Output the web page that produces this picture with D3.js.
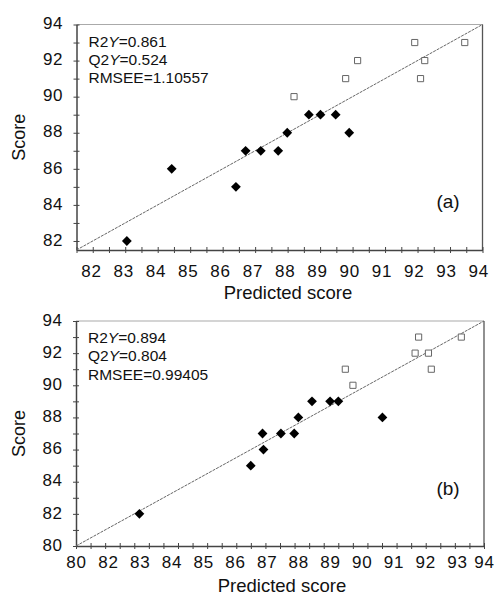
<!DOCTYPE html>
<html>
<head>
<meta charset="utf-8">
<script src="https://cdn.jsdelivr.net/npm/d3@7"></script>
<style>
  body { margin: 0; background: #fff; }
  svg { display: block; font-family: "Liberation Sans", Arial, sans-serif; }
</style>
</head>
<body>
<svg id="chart"></svg>
<script>
const width = 494;
const height = 596;

// Panel (a) - predicted vs measured score
const trainPredA = [83.11, 84.5, 86.49, 86.79, 87.26, 87.8, 88.08, 88.75, 89.11, 89.58, 90.0];
const trainScoreA = [82, 86, 85, 87, 87, 87, 88, 89, 89, 89, 88];
const testPredA = [88.29, 89.89, 90.26, 92.03, 92.21, 92.34, 93.58];
const testScoreA = [90, 91, 92, 93, 91, 92, 93];
const xLabelsA = [82, 83, 84, 85, 86, 87, 88, 89, 90, 91, 92, 93, 94];
const yLabelsA = [82, 84, 86, 88, 90, 92, 94];
const statsA = ["0.861", "0.524", "1.10557"];

// Panel (b)
const trainPredB = [82.99, 86.5, 86.9, 86.87, 87.45, 87.87, 88.0, 88.43, 89.0, 89.26, 90.65];
const trainScoreB = [82, 85, 86, 87, 87, 87, 88, 89, 89, 89, 88];
const testPredB = [89.48, 89.72, 91.68, 91.79, 92.1, 92.19, 93.16];
const testScoreB = [91, 90, 92, 93, 92, 91, 93];
const xLabelsB = [80, 82, 83, 84, 85, 86, 87, 88, 89, 90, 91, 92, 93, 94];
const yLabelsB = [80, 82, 84, 86, 88, 90, 92, 94];
const statsB = ["0.894", "0.804", "0.99405"];

const svg = d3.select("#chart")
    .attr("width", width)
    .attr("height", height);

function drawPanel(p) {
    const g = svg.append("g");
    const x = p.x, y = p.y;
    const xr = x.range(), yr = y.range();
    const left = xr[0], right = xr[xr.length - 1];
    const bottom = yr[0], top = yr[yr.length - 1];

    // frame
    g.append("line").attr("x1", left).attr("x2", right).attr("y1", top).attr("y2", top)
        .attr("stroke", "#aaa").attr("stroke-width", 1.2);
    g.append("line").attr("x1", right).attr("x2", right).attr("y1", top).attr("y2", bottom)
        .attr("stroke", "#555").attr("stroke-width", 1.3);

    // minor tick marks, evenly spaced along the frame
    const xTick = d3.scaleLinear().domain([0, p.nTicksX]).range([left, right]);
    const xMinor = g.append("g").attr("transform", `translate(0,${bottom})`)
        .call(d3.axisBottom(xTick).tickValues(d3.range(p.nTicksX + 1)).tickFormat("").tickSizeOuter(0));
    xMinor.select(".domain").attr("stroke", "#444").attr("stroke-width", 1.5);
    xMinor.selectAll(".tick line").attr("y1", -3).attr("y2", 3).attr("stroke", "#444");

    const yMinor = g.append("g").attr("transform", `translate(${left},0)`)
        .call(d3.axisLeft(y).tickValues(d3.range(Math.ceil(y.domain()[0]), 95)).tickFormat("").tickSizeOuter(0));
    yMinor.select(".domain").attr("stroke", "#444").attr("stroke-width", 1.5);
    yMinor.selectAll(".tick line").attr("x1", -3).attr("x2", 3).attr("stroke", "#444");

    // tick labels
    const xLab = g.append("g").attr("transform", `translate(0,${bottom})`)
        .call(d3.axisBottom(x).tickValues(p.xLabels).tickSize(0).tickPadding(p.xPad));
    xLab.select(".domain").remove();
    xLab.selectAll("text").attr("font-size", 17).attr("fill", "#111")
        .attr("font-family", "Liberation Sans, Arial, sans-serif").attr("letter-spacing", 0.8);

    const yLab = g.append("g").attr("transform", `translate(${left},0)`)
        .call(d3.axisLeft(y).tickValues(p.yLabels).tickSize(0).tickPadding(13.5));
    yLab.select(".domain").remove();
    yLab.selectAll("text").attr("font-size", 17).attr("fill", "#111").attr("dy", "0.25em")
        .attr("font-family", "Liberation Sans, Arial, sans-serif").attr("letter-spacing", 0.6);

    // diagonal reference line, corner to corner
    const xd = x.domain(), yd = y.domain();
    g.append("line")
        .attr("x1", x(xd[0])).attr("y1", y(yd[0]))
        .attr("x2", x(xd[xd.length - 1])).attr("y2", y(yd[yd.length - 1]))
        .attr("stroke", "#666").attr("stroke-width", 1).attr("stroke-dasharray", "3,1");

    // training set: black diamonds
    g.selectAll(".train").data(p.trainPred)
        .enter().append("path")
        .attr("class", "train")
        .attr("d", d3.symbol().type(d3.symbolSquare).size(48))
        .attr("transform", (d, i) => `translate(${x(d)},${y(p.trainScore[i])}) rotate(45)`)
        .attr("fill", "#000");

    // test set: open squares
    g.selectAll(".test").data(p.testPred)
        .enter().append("path")
        .attr("class", "test")
        .attr("d", d3.symbol().type(d3.symbolSquare).size(38))
        .attr("transform", (d, i) => `translate(${x(d)},${y(p.testScore[i])})`)
        .attr("fill", "#fff").attr("stroke", "#666").attr("stroke-width", 1);

    // statistics
    const names = [["R2", "Y"], ["Q2", "Y"], ["RMSEE", ""]];
    names.forEach((n, i) => {
        const t = g.append("text")
            .attr("x", left + 12)
            .attr("y", top + 22 + i * 18.3)
            .attr("font-size", 15.5)
            .attr("fill", "#111");
        t.append("tspan").text(n[0]);
        if (n[1]) t.append("tspan").attr("font-style", "italic").text(n[1]);
        t.append("tspan").text("=" + p.stats[i]);
    });

    g.append("text")
        .attr("x", 448).attr("y", p.tagY)
        .attr("text-anchor", "middle").attr("font-size", 19).attr("fill", "#111")
        .text(p.tag);

    g.append("text")
        .attr("x", p.titleX).attr("y", p.titleY)
        .attr("text-anchor", "middle").attr("font-size", 18.5).attr("fill", "#111")
        .text("Predicted score");

    g.append("text")
        .attr("transform", `translate(25,${(top + bottom) / 2}) rotate(-90)`)
        .attr("text-anchor", "middle").attr("font-size", 18).attr("fill", "#111")
        .text("Score");
}

drawPanel({
    x: d3.scaleLinear().domain([81.55, 94.13]).range([76.5, 482.5]),
    y: d3.scaleLinear().domain([81.5, 94]).range([250, 24.5]),
    nTicksX: 25,
    xLabels: xLabelsA, yLabels: yLabelsA,
    xPad: 14.8,
    trainPred: trainPredA, trainScore: trainScoreA,
    testPred: testPredA, testScore: testScoreA,
    stats: statsA,
    tag: "(a)", tagY: 208,
    titleX: 288, titleY: 298.5
});

drawPanel({
    x: d3.scaleLinear().domain([80, 82, 93, 94]).range([76, 108, 457, 484]),
    y: d3.scaleLinear().domain([80, 94]).range([546, 321]),
    nTicksX: 28,
    xLabels: xLabelsB, yLabels: yLabelsB,
    xPad: 10,
    trainPred: trainPredB, trainScore: trainScoreB,
    testPred: testPredB, testScore: testScoreB,
    stats: statsB,
    tag: "(b)", tagY: 495,
    titleX: 282, titleY: 592
});
</script>
</body>
</html>
